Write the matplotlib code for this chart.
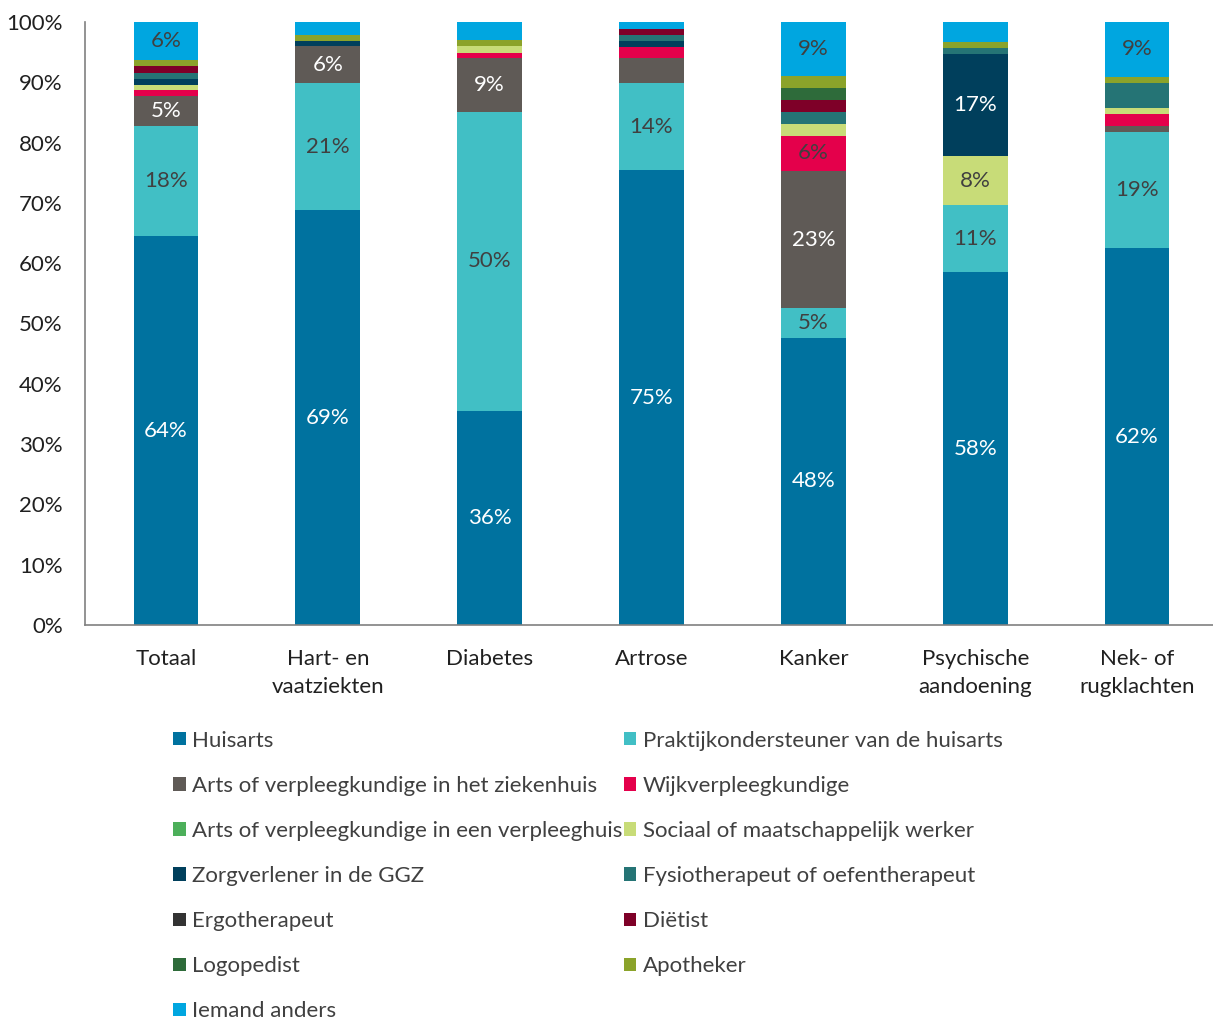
import matplotlib.pyplot as plt
import numpy as np
from matplotlib.patches import Patch

plt.rcParams['font.family'] = ['Lato', 'DejaVu Sans']

groepen = ['Totaal', 'Hart- en\nvaatziekten', 'Diabetes', 'Artrose', 'Kanker',
           'Psychische\naandoening', 'Nek- of\nrugklachten']

zorgverleners = ['Huisarts', 'Praktijkondersteuner van de huisarts',
                 'Arts of verpleegkundige in het ziekenhuis', 'Wijkverpleegkundige',
                 'Arts of verpleegkundige in een verpleeghuis', 'Sociaal of maatschappelijk werker',
                 'Zorgverlener in de GGZ', 'Fysiotherapeut of oefentherapeut',
                 'Ergotherapeut', 'Diëtist', 'Logopedist', 'Apotheker', 'Iemand anders']

# percentages per zorgverlener, per groep (zelfde volgorde als groepen)
huisarts     = [64.5, 68.8, 35.5, 75.4, 47.6, 58.5, 62.5]
praktijk     = [18.3, 21.1, 49.6, 14.5,  4.9, 11.1, 19.3]
ziekenhuis   = [ 5.0,  6.1,  9.0,  4.1, 22.8,  0.0,  1.0]
wijk         = [ 0.9,  0.0,  0.8,  1.8,  5.8,  0.0,  2.0]
verpleeghuis = [ 0.0,  0.0,  0.0,  0.0,  0.0,  0.0,  0.0]
sociaal      = [ 0.9,  0.0,  1.1,  0.0,  2.0,  8.1,  1.0]
ggz          = [ 1.0,  0.8,  0.0,  1.0,  0.0, 17.0,  0.0]
fysio        = [ 1.0,  0.0,  0.0,  1.1,  2.0,  1.0,  4.1]
ergo         = [ 0.0,  0.0,  0.0,  0.0,  0.0,  0.0,  0.0]
dietist      = [ 1.1,  0.0,  0.0,  1.0,  2.0,  0.0,  0.0]
logopedist   = [ 0.0,  0.0,  0.0,  0.0,  2.0,  0.0,  0.0]
apotheker    = [ 1.0,  1.0,  1.0,  0.0,  2.0,  1.0,  1.0]
anders       = [ 6.3,  2.2,  3.0,  1.1,  8.9,  3.3,  9.1]

reeksen = [huisarts, praktijk, ziekenhuis, wijk, verpleeghuis, sociaal, ggz,
           fysio, ergo, dietist, logopedist, apotheker, anders]

kleuren = ['#00729F', '#41BFC5', '#5F5A56', '#E4004B', '#4CAF5A', '#C8DC78',
           '#003F5C', '#257475', '#333333', '#7E0028', '#2E6B3A', '#8BA32A', '#00A6E0']
# witte labels op donkere vlakken
labelkleur = ['white', '#404040', 'white', '#404040', '#404040', '#404040',
              'white', 'white', 'white', 'white', 'white', '#404040', '#404040']

fig = plt.figure(figsize=(12.13, 10.19), dpi=100)
ax = fig.add_axes([0.0701, 0.3867, 0.934, 0.5917])

x = np.arange(len(groepen))
bodem = np.zeros(len(groepen))
for i, reeks in enumerate(reeksen):
    waarden = np.array(reeks)
    ax.bar(x, waarden, 0.4, bottom=bodem, color=kleuren[i], label=zorgverleners[i])
    for j, w in enumerate(waarden):
        if w >= 4.5:
            ax.text(x[j], bodem[j] + w / 2, '%d%%' % round(w), ha='center', va='center',
                    fontsize=16, color=labelkleur[i])
    bodem += waarden

ax.set_ylim(0, 100)
ax.set_xlim(-0.5, 6.5)
ax.set_yticks(range(0, 101, 10))
ax.set_yticklabels(['%d%%' % v for v in range(0, 101, 10)], fontsize=16, color='#202020')
ax.set_xticks(x)
ax.set_xticklabels(groepen, fontsize=16, color='#202020', linespacing=1.55)
ax.tick_params(axis='y', length=0, pad=16)
ax.tick_params(axis='x', length=0, pad=17)
for kant in ['top', 'right']:
    ax.spines[kant].set_visible(False)
for kant in ['left', 'bottom']:
    ax.spines[kant].set_color('#808080')
    ax.spines[kant].set_linewidth(1.2)

# legenda per rij gevuld: twee kolommen
volgorde = [0, 2, 4, 6, 8, 10, 12, 1, 3, 5, 7, 9, 11]
handles = [Patch(facecolor=kleuren[k]) for k in volgorde]
labels = [zorgverleners[k] for k in volgorde]
fig.legend(handles, labels, ncol=2, loc='upper left', bbox_to_anchor=(0.143, 0.283),
           frameon=False, fontsize=16, handlelength=0.55, handleheight=0.55,
           handletextpad=0.3, columnspacing=0.05, labelspacing=1.13,
           labelcolor='#404040', borderaxespad=0, borderpad=0)

plt.savefig('out.png', dpi=100)
